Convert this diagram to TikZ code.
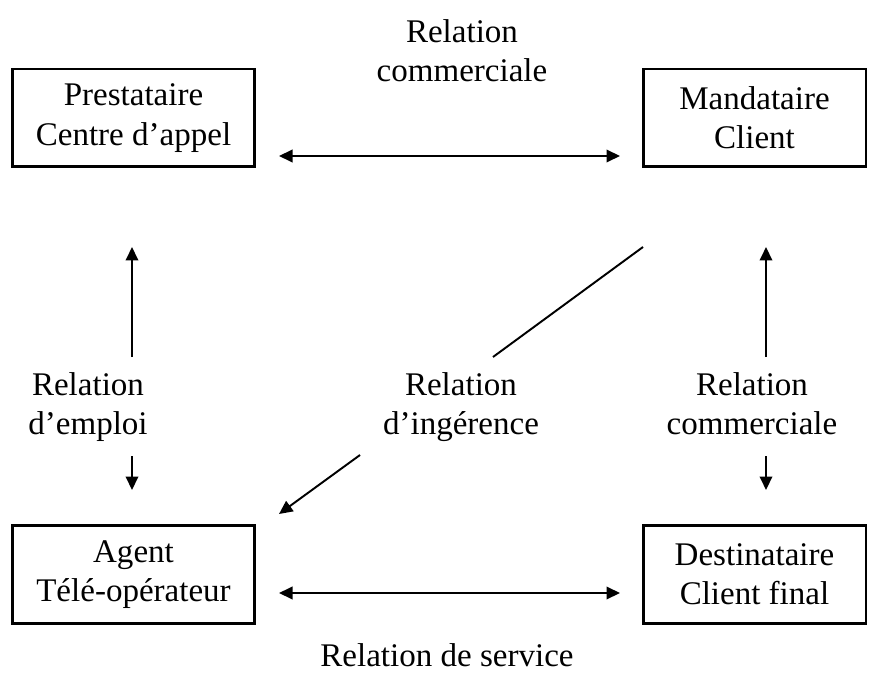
\documentclass[tikz,border=0pt]{standalone}
\usepackage{fontspec}
\setmainfont{Liberation Serif}
\usetikzlibrary{arrows.meta}

\tikzset{
  boite/.style={draw, line width=1.7pt, minimum height=1.96cm, align=center,
    inner sep=0pt, font=\fontsize{18.8}{22.4}\selectfont},
  etiq/.style={align=center, inner sep=0pt, font=\fontsize{18.8}{22.4}\selectfont},
  fleche/.style={line width=1.1pt, -{Triangle[length=0.27cm,width=0.25cm]}},
  dfleche/.style={line width=1.1pt, {Triangle[length=0.27cm,width=0.25cm]}-{Triangle[length=0.27cm,width=0.25cm]}}
}

\begin{document}
\begin{tikzpicture}[x=0.02cm,y=-0.02cm]
     \useasboundingbox (0,0) rectangle (874,675);

     % les quatre acteurs
     \node[boite, minimum width=4.86cm] (presta) at (133.5,118) {Prestataire\\Centre d'appel};
     \node[boite, minimum width=4.46cm] (manda) at (754.5,118) {Mandataire\\Client};
     \node[boite, minimum width=4.86cm] (agent) at (133.5,574.5) {Agent\\Télé-opérateur};
     \node[boite, minimum width=4.46cm] (dest) at (754.5,574.5) {Destinataire\\Client final};

     % relations
     \node[etiq] (comm) at (462,51) {Relation\\commerciale};
     \node[etiq] (emploi) at (88,407) {Relation\\d'emploi};
     \node[etiq] (ingerence) at (461,407) {Relation\\d'ingérence};
     \node[etiq] (comm2) at (752,404) {Relation\\commerciale};
     \node[etiq] (service) at (447,655) {Relation de service};

     % points des fleches
     \coordinate (ph1) at (279,156); \coordinate (ph2) at (620,156);
     \coordinate (pb1) at (279,593); \coordinate (pb2) at (620,593);
     \coordinate (g1) at (132,357); \coordinate (g2) at (132,247);
     \coordinate (g3) at (132,456); \coordinate (g4) at (132,490);
     \coordinate (d1) at (766,357); \coordinate (d2) at (766,247);
     \coordinate (d3) at (766,456); \coordinate (d4) at (766,490);
     \coordinate (i1) at (643,247); \coordinate (i2) at (493,357);
     \coordinate (i3) at (360,455); \coordinate (i4) at (279,514);

     \draw[dfleche] (ph1) -- (ph2);
     \draw[dfleche] (pb1) -- (pb2);
     \draw[fleche] (g1) -- (g2);
     \draw[fleche] (g3) -- (g4);
     \draw[fleche] (d1) -- (d2);
     \draw[fleche] (d3) -- (d4);
     \draw[line width=1.1pt] (i1) -- (i2);
     \draw[fleche] (i3) -- (i4);
\end{tikzpicture}
\end{document}
